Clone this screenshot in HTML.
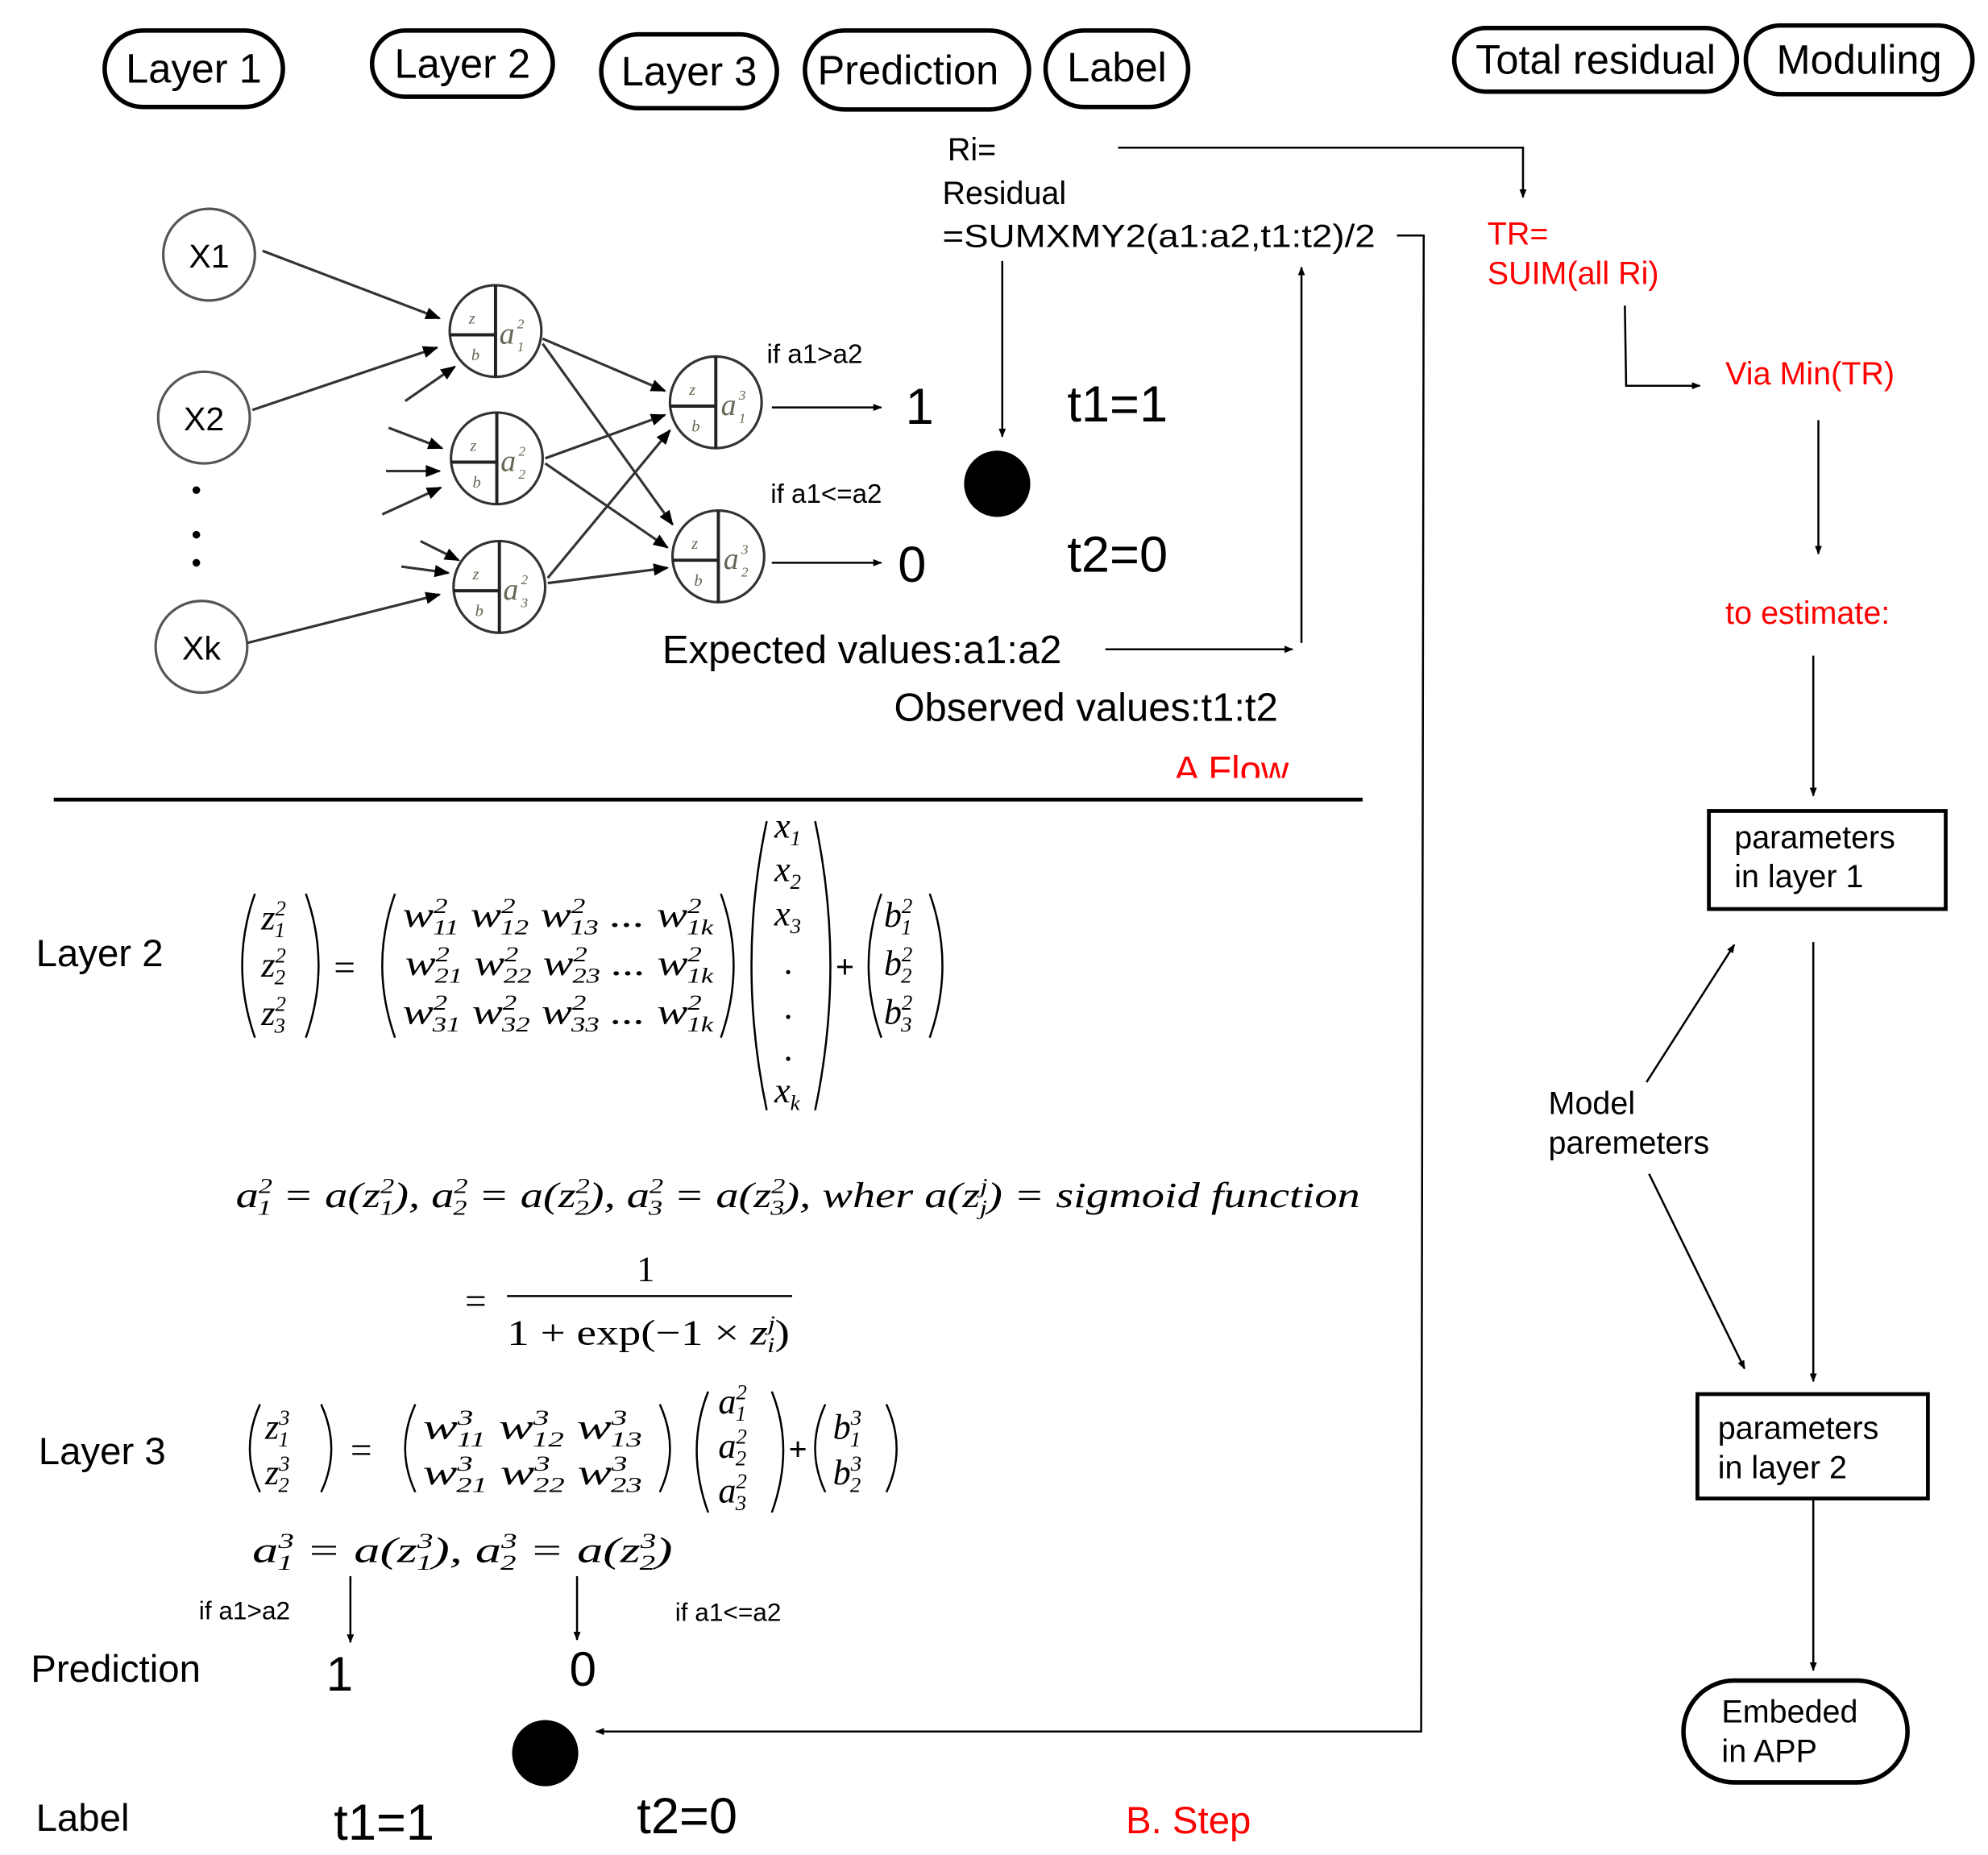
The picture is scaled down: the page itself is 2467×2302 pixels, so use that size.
<!DOCTYPE html>
<html><head><meta charset="utf-8"><style>
html,body{margin:0;padding:0;background:#fff}
svg{display:block}
.s{font-family:"Liberation Sans",sans-serif}
.m{font-family:"Liberation Serif",serif;font-style:italic}
</style></head><body>
<svg width="2467" height="2302" viewBox="0 0 1561 1457" xmlns="http://www.w3.org/2000/svg">
<defs>
<marker id="ar" viewBox="0 0 10 10" refX="9" refY="5" markerWidth="7" markerHeight="7" orient="auto-start-reverse" markerUnits="userSpaceOnUse"><path d="M0,1 L10,5 L0,9 z" fill="#000"/></marker>
<marker id="ar2" viewBox="0 0 10 10" refX="9" refY="5" markerWidth="14" markerHeight="12" orient="auto" markerUnits="userSpaceOnUse"><path d="M0,1 L10,5 L0,9 z" fill="#000"/></marker>
</defs>
<g fill="none" stroke="#000" stroke-width="3.5">
<rect x="82" y="24" width="140" height="60" rx="30"/>
<rect x="292" y="24" width="142" height="52" rx="26"/>
<rect x="472" y="27" width="138" height="58" rx="29"/>
<rect x="632" y="24" width="176" height="62" rx="31"/>
<rect x="821" y="24" width="112" height="60" rx="30"/>
<rect x="1142" y="22" width="222" height="50" rx="25"/>
<rect x="1371" y="20" width="178" height="54" rx="27"/>
<rect x="1322" y="1320" width="176" height="80" rx="40"/>
<rect x="1342" y="637" width="186" height="77" stroke-width="3"/>
<rect x="1333" y="1095" width="181" height="82" stroke-width="3"/>
</g>
<g class="s" font-size="32" text-anchor="middle" fill="#000">
<text x="152" y="65">Layer 1</text>
<text x="363" y="61">Layer 2</text>
<text x="541" y="67">Layer 3</text>
<text x="713" y="66">Prediction</text>
<text x="877" y="64">Label</text>
<text x="1253" y="58">Total residual</text>
<text x="1460" y="58">Moduling</text>
</g>
<g class="s" font-size="25" fill="#000">
<text x="744" y="126">Ri=</text>
<text x="740" y="160">Residual</text>
<text x="740" y="194" textLength="340" lengthAdjust="spacingAndGlyphs">=SUMXMY2(a1:a2,t1:t2)/2</text>
<text x="1362" y="666">parameters</text>
<text x="1362" y="697">in layer 1</text>
<text x="1349" y="1130">parameters</text>
<text x="1349" y="1161">in layer 2</text>
<text x="1352" y="1353">Embeded</text>
<text x="1352" y="1384">in APP</text>
<text x="1216" y="875">Model</text>
<text x="1216" y="906">paremeters</text>
</g>
<g class="s" fill="#f00" font-size="25">
<text x="1168" y="192">TR=</text>
<text x="1168" y="223">SUIM(all Ri)</text>
<text x="1355" y="302">Via  Min(TR)</text>
<text x="1355" y="490">to estimate:</text>
<text x="884" y="1440" font-size="30">B. Step</text>
</g>
<svg x="0" y="580" width="1561" height="31" overflow="hidden"><text class="s" x="922" y="35" font-size="30" fill="#f00">A  Flow</text></svg>
<g fill="none" stroke="#000" stroke-width="1.6">
<polyline points="878,116 1196,116 1196,155" marker-end="url(#ar)"/>
<polyline points="1097,185 1118,185 1116,1360 468,1360" marker-end="url(#ar)"/>
<line x1="787" y1="205" x2="787" y2="343" marker-end="url(#ar)"/>
<line x1="1022" y1="505" x2="1022" y2="210" marker-end="url(#ar)"/>
<line x1="868" y1="510" x2="1015" y2="510" marker-end="url(#ar)"/>
<polyline points="1276,240 1277,303 1335,303" marker-end="url(#ar)"/>
<line x1="1428" y1="330" x2="1428" y2="435" marker-end="url(#ar)"/>
<line x1="1424" y1="515" x2="1424" y2="625" marker-end="url(#ar)"/>
<line x1="1424" y1="740" x2="1424" y2="1085" marker-end="url(#ar)"/>
<line x1="1424" y1="1177" x2="1424" y2="1312" marker-end="url(#ar)"/>
<line x1="1293" y1="850" x2="1362" y2="742" marker-end="url(#ar)"/>
<line x1="1295" y1="922" x2="1370" y2="1075" marker-end="url(#ar)"/>
<line x1="606" y1="320" x2="692" y2="320" marker-end="url(#ar)"/>
<line x1="606" y1="442" x2="692" y2="442" marker-end="url(#ar)"/>
<line x1="275" y1="1238" x2="275" y2="1290" marker-end="url(#ar)"/>
<line x1="453" y1="1238" x2="453" y2="1288" marker-end="url(#ar)"/>
</g>
<line x1="42" y1="628" x2="1070" y2="628" stroke="#000" stroke-width="3"/>
<circle cx="783" cy="380" r="26" fill="#000"/>
<circle cx="428" cy="1377" r="26" fill="#000"/>
<g class="s" fill="#000">
<text x="838" y="331" font-size="40">t1=1</text>
<text x="838" y="449" font-size="40">t2=0</text>
<text x="711" y="333" font-size="40">1</text>
<text x="705" y="457" font-size="40">0</text>
<text x="602" y="285" font-size="21">if a1&gt;a2</text>
<text x="605" y="395" font-size="21">if a1&lt;=a2</text>
<text x="520" y="521" font-size="31">Expected values:a1:a2</text>
<text x="702" y="566" font-size="31">Observed values:t1:t2</text>
<text x="28" y="759" font-size="30">Layer 2</text>
<text x="30" y="1150" font-size="30">Layer 3</text>
<text x="24" y="1321" font-size="30">Prediction</text>
<text x="28" y="1438" font-size="30">Label</text>
<text x="256" y="1328" font-size="38">1</text>
<text x="447" y="1324" font-size="38">0</text>
<text x="262" y="1445" font-size="40">t1=1</text>
<text x="500" y="1440" font-size="40">t2=0</text>
<text x="156" y="1272" font-size="20">if a1&gt;a2</text>
<text x="530" y="1273" font-size="20">if a1&lt;=a2</text>
</g>
<!-- network -->
<g fill="#fff" stroke="#555" stroke-width="2">
<circle cx="164" cy="200" r="36"/><circle cx="160" cy="328" r="36"/><circle cx="158" cy="508" r="36"/>
</g>
<g class="s" font-size="26" text-anchor="middle" fill="#000">
<text x="164" y="210">X1</text><text x="160" y="338">X2</text><text x="158" y="518">Xk</text>
</g>
<g fill="#000"><circle cx="154" cy="385" r="3"/><circle cx="154" cy="420" r="3"/><circle cx="154" cy="442" r="3"/></g>
<g stroke="#333" stroke-width="2" fill="none">
<line x1="206" y1="197" x2="345" y2="250" marker-end="url(#ar2)"/>
<line x1="198" y1="322" x2="343" y2="273" marker-end="url(#ar2)"/>
<line x1="194" y1="505" x2="345" y2="467" marker-end="url(#ar2)"/>
<line x1="318" y1="315" x2="357" y2="288" marker-end="url(#ar2)"/>
<line x1="305" y1="336" x2="347" y2="352" marker-end="url(#ar2)"/>
<line x1="303" y1="370" x2="345" y2="370" marker-end="url(#ar2)"/>
<line x1="300" y1="404" x2="346" y2="383" marker-end="url(#ar2)"/>
<line x1="330" y1="425" x2="360" y2="440" marker-end="url(#ar2)"/>
<line x1="315" y1="445" x2="352" y2="450" marker-end="url(#ar2)"/>
<line x1="426" y1="266" x2="522" y2="307" marker-end="url(#ar2)"/>
<line x1="426" y1="270" x2="528" y2="412" marker-end="url(#ar2)"/>
<line x1="428" y1="360" x2="522" y2="326" marker-end="url(#ar2)"/>
<line x1="428" y1="364" x2="524" y2="430" marker-end="url(#ar2)"/>
<line x1="430" y1="454" x2="526" y2="338" marker-end="url(#ar2)"/>
<line x1="430" y1="458" x2="524" y2="446" marker-end="url(#ar2)"/>
</g>
<g stroke="#333" stroke-width="2" fill="#fff">
<circle cx="389" cy="260" r="36"/><circle cx="390" cy="360" r="36"/><circle cx="392" cy="461" r="36"/>
<circle cx="562" cy="316" r="36"/><circle cx="564" cy="437" r="36"/>
</g>
<g stroke="#222" stroke-width="2.5">
<line x1="389" y1="224" x2="389" y2="296"/><line x1="353" y1="263" x2="389" y2="263"/>
<line x1="390" y1="324" x2="390" y2="396"/><line x1="354" y1="363" x2="390" y2="363"/>
<line x1="392" y1="425" x2="392" y2="497"/><line x1="356" y1="464" x2="392" y2="464"/>
<line x1="562" y1="280" x2="562" y2="352"/><line x1="526" y1="319" x2="562" y2="319"/>
<line x1="564" y1="401" x2="564" y2="473"/><line x1="528" y1="440" x2="564" y2="440"/>
</g>
<g class="m" fill="#665">
<g font-size="13"><text x="368" y="254">z</text><text x="370" y="283">b</text>
<text x="369" y="354">z</text><text x="371" y="383">b</text>
<text x="371" y="455">z</text><text x="373" y="484">b</text>
<text x="541" y="310">z</text><text x="543" y="339">b</text>
<text x="543" y="431">z</text><text x="545" y="460">b</text></g>
<g font-size="24"><text x="392" y="270">a</text><text x="393" y="370">a</text><text x="395" y="471">a</text>
<text x="566" y="326">a</text><text x="568" y="447">a</text></g>
<g font-size="11"><text x="406" y="258">2</text><text x="406" y="276">1</text>
<text x="407" y="358">2</text><text x="407" y="376">2</text>
<text x="409" y="459">2</text><text x="409" y="477">3</text>
<text x="580" y="314">3</text><text x="580" y="332">1</text>
<text x="582" y="435">3</text><text x="582" y="453">2</text></g>
</g>
<!-- math -->
<g fill="none" stroke="#000" stroke-width="1.6">
<path d="M200,702 Q180,758 200,815"/><path d="M240,702 Q260,758 240,815"/>
<path d="M310,702 Q290,758 310,815"/><path d="M566,702 Q586,758 566,815"/>
<path d="M602,645 Q578,758 602,872"/><path d="M640,645 Q664,758 640,872"/>
<path d="M692,702 Q672,758 692,815"/><path d="M730,702 Q750,758 730,815"/>
<path d="M204,1103 Q188,1138 204,1172"/><path d="M252,1103 Q268,1138 252,1172"/>
<path d="M326,1103 Q310,1138 326,1172"/><path d="M518,1103 Q534,1138 518,1172"/>
<path d="M556,1093 Q538,1138 556,1188"/><path d="M606,1093 Q624,1138 606,1188"/>
<path d="M648,1103 Q632,1138 648,1172"/><path d="M696,1103 Q712,1138 696,1172"/>
<line x1="398" y1="1018" x2="622" y2="1018"/>
</g>
<g class="m" fill="#000" font-size="28">
<text x="205" y="730">z<tspan font-size="17" dy="-11">2</tspan><tspan font-size="17" dx="-9" dy="17">1</tspan></text>
<text x="205" y="767">z<tspan font-size="17" dy="-11">2</tspan><tspan font-size="17" dx="-9" dy="17">2</tspan></text>
<text x="205" y="805">z<tspan font-size="17" dy="-11">2</tspan><tspan font-size="17" dx="-9" dy="17">3</tspan></text>
<text x="316" y="728" textLength="244" lengthAdjust="spacingAndGlyphs">w<tspan font-size="17" dy="-11">2</tspan><tspan font-size="17" dx="-9" dy="17">11</tspan><tspan dy="-6">  w</tspan><tspan font-size="17" dy="-11">2</tspan><tspan font-size="17" dx="-9" dy="17">12</tspan><tspan dy="-6"> w</tspan><tspan font-size="17" dy="-11">2</tspan><tspan font-size="17" dx="-9" dy="17">13</tspan><tspan dy="-6"> ... w</tspan><tspan font-size="17" dy="-11">2</tspan><tspan font-size="17" dx="-9" dy="17">1k</tspan></text>
<text x="318" y="766" textLength="242" lengthAdjust="spacingAndGlyphs">w<tspan font-size="17" dy="-11">2</tspan><tspan font-size="17" dx="-9" dy="17">21</tspan><tspan dy="-6"> w</tspan><tspan font-size="17" dy="-11">2</tspan><tspan font-size="17" dx="-9" dy="17">22</tspan><tspan dy="-6"> w</tspan><tspan font-size="17" dy="-11">2</tspan><tspan font-size="17" dx="-9" dy="17">23</tspan><tspan dy="-6"> ... w</tspan><tspan font-size="17" dy="-11">2</tspan><tspan font-size="17" dx="-9" dy="17">1k</tspan></text>
<text x="316" y="804" textLength="244" lengthAdjust="spacingAndGlyphs">w<tspan font-size="17" dy="-11">2</tspan><tspan font-size="17" dx="-9" dy="17">31</tspan><tspan dy="-6"> w</tspan><tspan font-size="17" dy="-11">2</tspan><tspan font-size="17" dx="-9" dy="17">32</tspan><tspan dy="-6">  w</tspan><tspan font-size="17" dy="-11">2</tspan><tspan font-size="17" dx="-9" dy="17">33</tspan><tspan dy="-6"> ... w</tspan><tspan font-size="17" dy="-11">2</tspan><tspan font-size="17" dx="-9" dy="17">1k</tspan></text>
<text x="608" y="658">x<tspan font-size="17" dy="6">1</tspan></text>
<text x="608" y="692">x<tspan font-size="17" dy="6">2</tspan></text>
<text x="608" y="727">x<tspan font-size="17" dy="6">3</tspan></text>
<text x="616" y="765">.</text><text x="616" y="800">.</text><text x="616" y="833">.</text>
<text x="608" y="866">x<tspan font-size="17" dy="6">k</tspan></text>
<text x="694" y="728">b<tspan font-size="17" dy="-11">2</tspan><tspan font-size="17" dx="-9" dy="17">1</tspan></text>
<text x="694" y="766">b<tspan font-size="17" dy="-11">2</tspan><tspan font-size="17" dx="-9" dy="17">2</tspan></text>
<text x="694" y="804">b<tspan font-size="17" dy="-11">2</tspan><tspan font-size="17" dx="-9" dy="17">3</tspan></text>
<text x="185" y="948" textLength="883" lengthAdjust="spacingAndGlyphs">a<tspan font-size="17" dy="-11">2</tspan><tspan font-size="17" dx="-9" dy="17">1</tspan><tspan dy="-6"> = a(z</tspan><tspan font-size="17" dy="-11">2</tspan><tspan font-size="17" dx="-9" dy="17">1</tspan><tspan dy="-6">), a</tspan><tspan font-size="17" dy="-11">2</tspan><tspan font-size="17" dx="-9" dy="17">2</tspan><tspan dy="-6"> = a(z</tspan><tspan font-size="17" dy="-11">2</tspan><tspan font-size="17" dx="-9" dy="17">2</tspan><tspan dy="-6">), a</tspan><tspan font-size="17" dy="-11">2</tspan><tspan font-size="17" dx="-9" dy="17">3</tspan><tspan dy="-6"> = a(z</tspan><tspan font-size="17" dy="-11">2</tspan><tspan font-size="17" dx="-9" dy="17">3</tspan><tspan dy="-6">), wher a(z</tspan><tspan font-size="17" dy="-11">j</tspan><tspan font-size="17" dx="-5" dy="17">j</tspan><tspan dy="-6">) = sigmoid function</tspan></text>
<text x="208" y="1130">z<tspan font-size="17" dy="-11">3</tspan><tspan font-size="17" dx="-9" dy="17">1</tspan></text>
<text x="208" y="1166">z<tspan font-size="17" dy="-11">3</tspan><tspan font-size="17" dx="-9" dy="17">2</tspan></text>
<text x="332" y="1130" textLength="172" lengthAdjust="spacingAndGlyphs">w<tspan font-size="17" dy="-11">3</tspan><tspan font-size="17" dx="-9" dy="17">11</tspan><tspan dy="-6">  w</tspan><tspan font-size="17" dy="-11">3</tspan><tspan font-size="17" dx="-9" dy="17">12</tspan><tspan dy="-6"> w</tspan><tspan font-size="17" dy="-11">3</tspan><tspan font-size="17" dx="-9" dy="17">13</tspan></text>
<text x="332" y="1166" textLength="172" lengthAdjust="spacingAndGlyphs">w<tspan font-size="17" dy="-11">3</tspan><tspan font-size="17" dx="-9" dy="17">21</tspan><tspan dy="-6">  w</tspan><tspan font-size="17" dy="-11">3</tspan><tspan font-size="17" dx="-9" dy="17">22</tspan><tspan dy="-6"> w</tspan><tspan font-size="17" dy="-11">3</tspan><tspan font-size="17" dx="-9" dy="17">23</tspan></text>
<text x="564" y="1110">a<tspan font-size="17" dy="-11">2</tspan><tspan font-size="17" dx="-9" dy="17">1</tspan></text>
<text x="564" y="1145">a<tspan font-size="17" dy="-11">2</tspan><tspan font-size="17" dx="-9" dy="17">2</tspan></text>
<text x="564" y="1180">a<tspan font-size="17" dy="-11">2</tspan><tspan font-size="17" dx="-9" dy="17">3</tspan></text>
<text x="654" y="1130">b<tspan font-size="17" dy="-11">3</tspan><tspan font-size="17" dx="-9" dy="17">1</tspan></text>
<text x="654" y="1166">b<tspan font-size="17" dy="-11">3</tspan><tspan font-size="17" dx="-9" dy="17">2</tspan></text>
<text x="198" y="1227" textLength="330" lengthAdjust="spacingAndGlyphs">a<tspan font-size="17" dy="-11">3</tspan><tspan font-size="17" dx="-9" dy="17">1</tspan><tspan dy="-6"> = a(z</tspan><tspan font-size="17" dy="-11">3</tspan><tspan font-size="17" dx="-9" dy="17">1</tspan><tspan dy="-6">), a</tspan><tspan font-size="17" dy="-11">3</tspan><tspan font-size="17" dx="-9" dy="17">2</tspan><tspan dy="-6"> = a(z</tspan><tspan font-size="17" dy="-11">3</tspan><tspan font-size="17" dx="-9" dy="17">2</tspan><tspan dy="-6">)</tspan></text>
</g>
<g font-family="Liberation Serif,serif" fill="#000" font-size="30">
<text x="262" y="770">=</text>
<text x="656" y="768" font-size="26" font-weight="bold">+</text>
<text x="275" y="1149">=</text>
<text x="619" y="1147" font-size="26" font-weight="bold">+</text>
<text x="365" y="1032">=</text>
<text x="500" y="1006" font-size="28">1</text>
<text x="398" y="1056" font-size="28" textLength="222" lengthAdjust="spacingAndGlyphs">1 + exp(−1 × <tspan font-style="italic">z</tspan><tspan font-size="17" dy="-11" font-style="italic">j</tspan><tspan font-size="17" dx="-5" dy="17" font-style="italic">i</tspan><tspan dy="-6">)</tspan></text>
</g>
</svg>
</body></html>
